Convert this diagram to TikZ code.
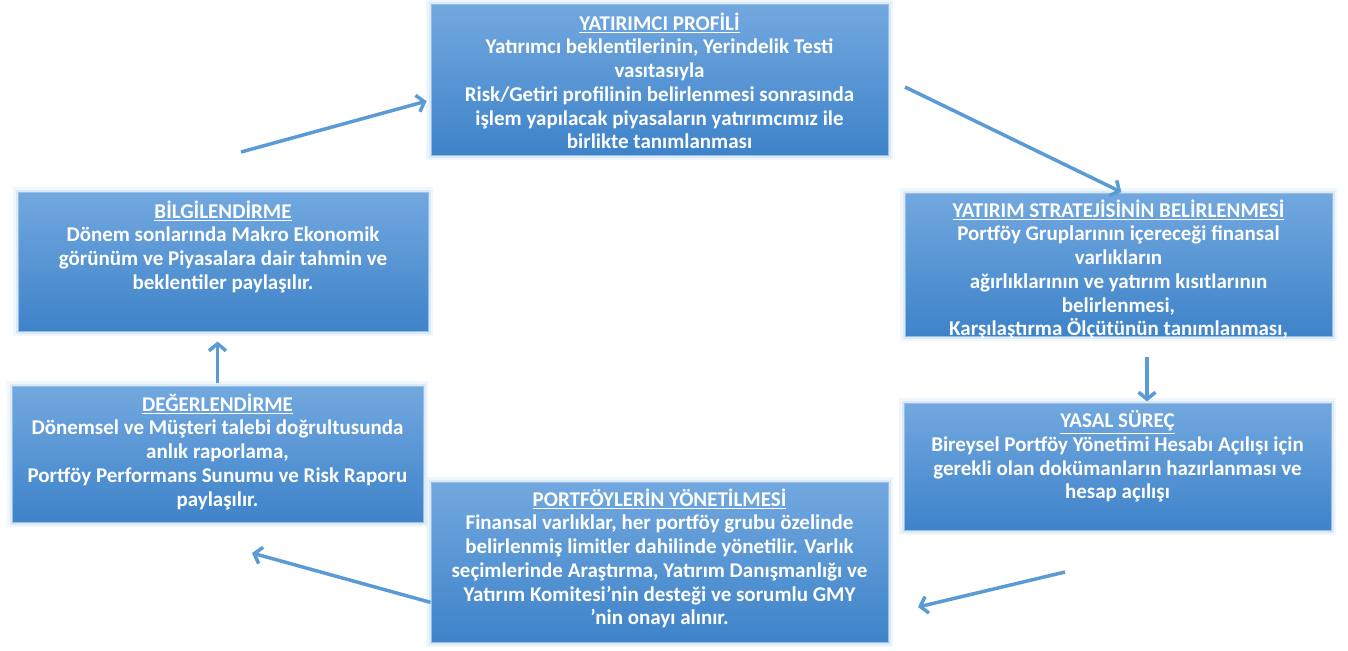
\documentclass[tikz,border=0pt]{standalone}
\usepackage{fontspec}
\setmainfont{Carlito}
\usetikzlibrary{positioning,arrows.meta}

\definecolor{boxtop}{RGB}{114,168,223}
\definecolor{boxbottom}{RGB}{62,131,201}
\definecolor{boxedge}{RGB}{150,190,232}
\definecolor{boxglow}{RGB}{175,208,240}
\definecolor{flowblue}{RGB}{91,155,213}

\begin{document}
\begin{tikzpicture}[
    x=1pt, y=-1pt,
    box/.style={rectangle, draw=boxedge, line width=1pt,
        top color=boxtop, bottom color=boxbottom,
        preaction={draw=boxglow, line width=10pt, opacity=0.2},
        preaction={draw=boxglow, line width=5pt, opacity=0.3}},
    box text/.style={inner sep=0pt, align=center, text=white,
        font=\bfseries\fontsize{21}{23.7}\selectfont},
    flow/.style={draw=flowblue, line width=3.5pt,
        -{Straight Barb[length=7pt, width=17pt]}}
    ]
    \useasboundingbox (0,0) rectangle (1348,650);

    % Boxes
    \node[box, minimum width=457pt, minimum height=150pt] (prof) at (659.5,80) {};
    \node[box, minimum width=427pt, minimum height=143pt] (strat) at (1118.5,264.5) {};
    \node[box, minimum width=427pt, minimum height=127pt] (yasal) at (1117.5,466.5) {};
    \node[box, minimum width=457pt, minimum height=160pt] (pf) at (659.5,562) {};
    \node[box, minimum width=411pt, minimum height=136pt] (deg) at (217.5,454) {};
    \node[box, minimum width=410pt, minimum height=139pt] (bilgi) at (223,261.5) {};

    % Texts
    \node[box text, below=8pt of prof.north] (prof text) {\underline{YATIRIMCI PROFİLİ}\\
        Yatırımcı beklentilerinin, Yerindelik Testi\\ vasıtasıyla\\
        Risk/Getiri profilinin belirlenmesi sonrasında\\
        işlem yapılacak piyasaların yatırımcımız ile\\ birlikte tanımlanması};
    \node[box text, below=7pt of strat.north] (strat text) {\underline{YATIRIM STRATEJİSİNİN BELİRLENMESİ}\\
        Portföy Gruplarının içereceği finansal\\ varlıkların\\
        ağırlıklarının ve yatırım kısıtlarının\\ belirlenmesi,\\
        Karşılaştırma Ölçütünün tanımlanması,};
    \node[box text, below=8pt of yasal.north] (yasal text) {\underline{YASAL SÜREÇ}\\
        Bireysel Portföy Yönetimi Hesabı Açılışı için\\
        gerekli olan dokümanların hazırlanması ve\\ hesap açılışı};
    \node[box text, below=7pt of pf.north] (pf text) {\underline{PORTFÖYLERİN YÖNETİLMESİ}\\
        Finansal varlıklar, her portföy grubu özelinde\\
        belirlenmiş limitler dahilinde yönetilir. Varlık\\
        seçimlerinde Araştırma, Yatırım Danışmanlığı ve\\
        Yatırım Komitesi’nin desteği ve sorumlu GMY\\ ’nin onayı alınır.};
    \node[box text, below=8pt of deg.north] (deg text) {\underline{DEĞERLENDİRME}\\
        Dönemsel ve Müşteri talebi doğrultusunda\\ anlık raporlama,\\
        Portföy Performans Sunumu ve Risk Raporu\\ paylaşılır.};
    \node[box text, below=9pt of bilgi.north] (bilgi text) {\underline{BİLGİLENDİRME}\\
        Dönem sonlarında Makro Ekonomik\\
        görünüm ve Piyasalara dair tahmin ve\\ beklentiler paylaşılır.};

    % Free ends of the arrows
    \coordinate (c1) at (241,152);
    \coordinate (c2) at (905,87);
    \coordinate (c3) at (1147,357);
    \coordinate (c4) at (1065,572);
    \coordinate (c5) at (918,607);
    \coordinate (c6) at (252,553);

    % Connections
    \path[flow, shorten >=4pt] (c1) -- (prof.185);
    \path[flow, shorten >=1pt] (c2) -- (strat.87);
    \path[flow, shorten >=1pt] (c3) -- (c3 |- yasal.north);
    \path[flow] (c4) -- (c5);
    \path[flow] (pf.190) -- (c6);
    \path[flow, shorten <=3pt, shorten >=10pt] (deg.north) -- (deg.north |- bilgi.south);

\end{tikzpicture}
\end{document}
